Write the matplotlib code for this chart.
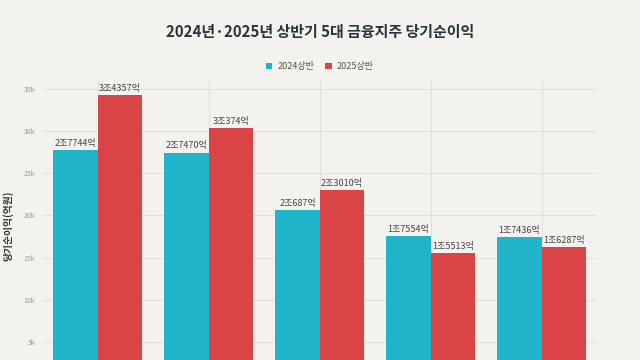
import numpy as np
import matplotlib.pyplot as plt

plt.rcParams['font.family'] = ['Noto Sans CJK KR', 'DejaVu Sans']

# data (억원)
companies = ['KB금융', '신한금융', '하나금융', '우리금융', 'NH농협금융']
profit_2024 = [27744, 27470, 20687, 17554, 17436]
profit_2025 = [34357, 30374, 23010, 15513, 16287]
labels_2024 = ['2조7744억', '2조7470억', '2조687억', '1조7554억', '1조7436억']
labels_2025 = ['3조4357억', '3조374억', '2조3010억', '1조5513억', '1조6287억']
yticks = [5000, 10000, 15000, 20000, 25000, 30000, 35000]
ytick_labels = ['5k', '10k', '15k', '20k', '25k', '30k', '35k']

bg = '#f3f2ee'
c24 = '#20b4cb'
c25 = '#db4446'

fig = plt.figure(figsize=(6.4, 3.6), dpi=100, facecolor=bg)
ax = fig.add_axes([0.066, -0.066, 0.867, 0.844])
ax.set_facecolor(bg)

x = np.arange(len(companies))
w = 0.4
b1 = ax.bar(x - w/2, profit_2024, w, color=c24, label='2024상반', zorder=2)
b2 = ax.bar(x + w/2, profit_2025, w, color=c25, label='2025상반', zorder=2)

for bars, labs in [(b1, labels_2024), (b2, labels_2025)]:
    for r, t in zip(bars, labs):
        ax.annotate(t, (r.get_x() + r.get_width()/2, r.get_height()),
                    xytext=(0, 1.5), textcoords='offset points',
                    ha='center', va='bottom', fontsize=6.5, color='#444444', zorder=3)

ax.set_xlim(-0.5, 4.5)
ax.set_ylim(0, 36100)
# company names sit below the visible area in the reference crop
ax.set_xticks(x)
ax.tick_params(axis='x', labelbottom=False)
ax.set_yticks(yticks)
ax.set_yticklabels(ytick_labels, fontsize=5, color='#9a9a9a')
ax.tick_params(length=0, pad=5)
ax.grid(True, color='#dcdcdc', linewidth=0.6, zorder=0)
for s in ax.spines.values():
    s.set_visible(False)

ax.set_ylabel('당기순이익(억원)', fontsize=7, fontweight='bold', color='#333333')
ax.yaxis.set_label_coords(-0.052, 0.52)

fig.text(0.5, 0.91, '2024년·2025년 상반기 5대 금융지주 당기순이익',
         ha='center', va='center', fontsize=10.8, fontweight='bold', color='#263535')
fig.legend(loc='center', bbox_to_anchor=(0.5, 0.815), ncol=2, frameon=False,
           fontsize=6.5, handlelength=0.7, handleheight=0.7, handletextpad=0.6,
           columnspacing=1.2, labelcolor='#555555')

fig.savefig('out.png', dpi=100, facecolor=bg)
